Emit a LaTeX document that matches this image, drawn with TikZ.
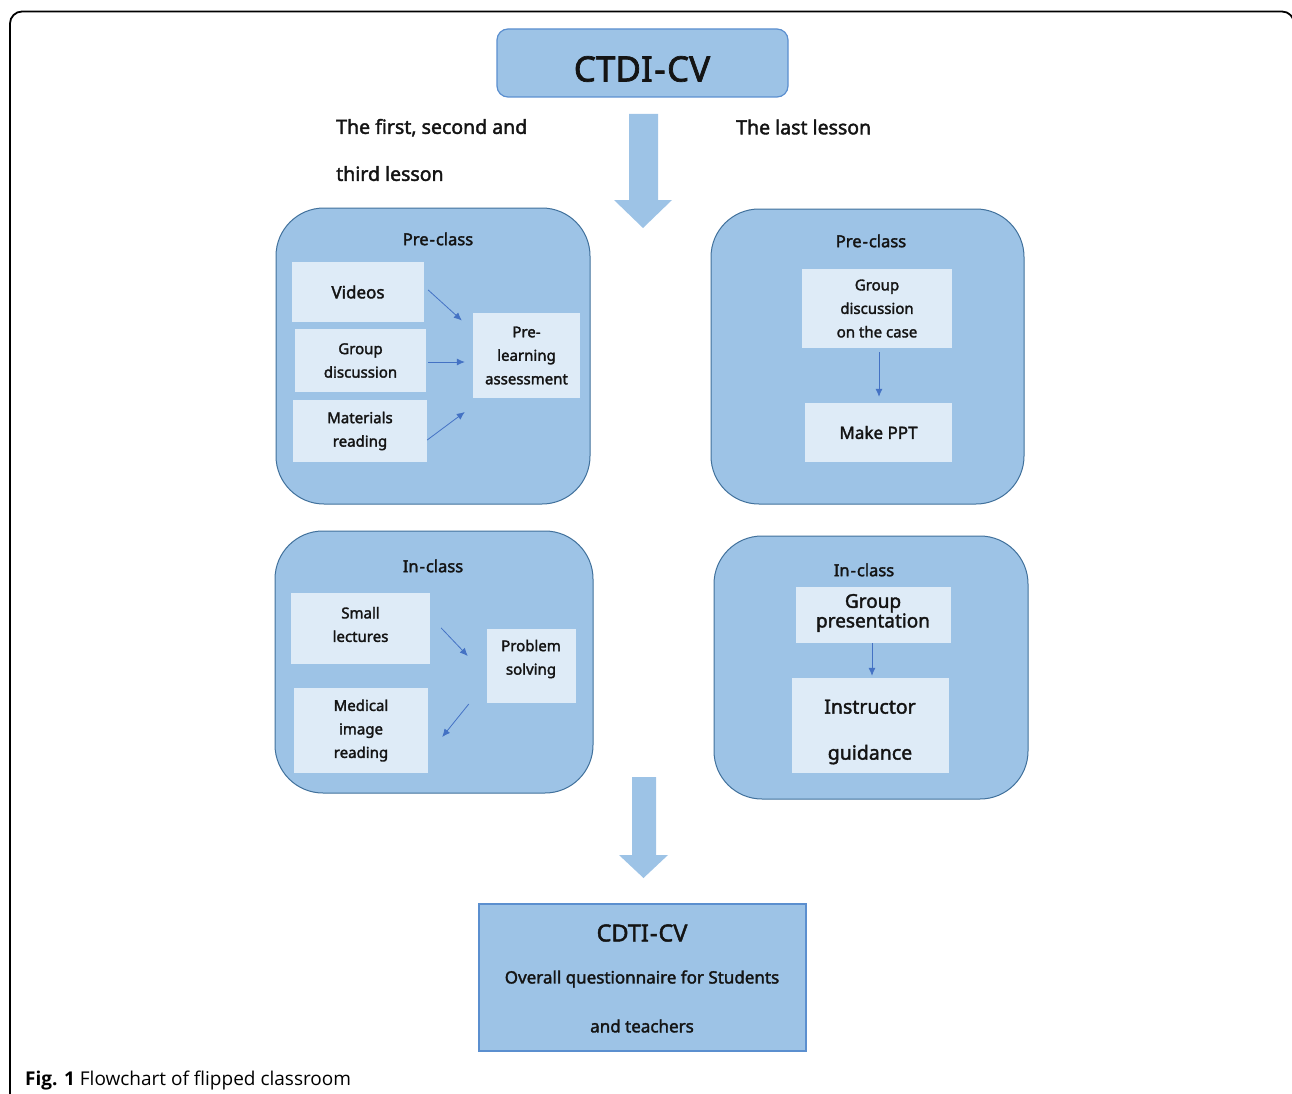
\documentclass[tikz,border=0pt]{standalone}
\usepackage{fontspec}
\setmainfont{Noto Sans}[FakeBold=2]
\newfontfamily\capfont{Open Sans}
\usetikzlibrary{arrows.meta,calc}

\definecolor{panelblue}{HTML}{9DC3E6}
\definecolor{paleblue}{HTML}{DEEBF7}
\definecolor{edgeblue}{HTML}{41719C}
\definecolor{boxedge}{HTML}{5B8FCF}
\definecolor{flowblue}{HTML}{4472C4}
\definecolor{ink}{HTML}{141414}

\newcommand\fsz[2]{\fontsize{#1}{#2}\selectfont}

\begin{document}
\begin{tikzpicture}[x=1pt,y=-1pt,
  panel/.style={draw=edgeblue, line width=1pt, fill=panelblue, rounded corners=48pt, inner sep=0pt},
  item/.style={fill=paleblue, inner sep=0pt, align=center, text=ink, font=\fsz{15}{23.5}},
  words/.style={inner sep=0pt, align=center, text=ink},
  ptitle/.style={inner sep=0pt, text=ink, font=\fsz{16.5}{20}},
  lesson/.style={inner sep=0pt, text=ink, font=\fsz{19.5}{47}, align=left, anchor=west},
  flow/.style={draw=flowblue, line width=0.8pt, -{Latex[length=8pt,width=7pt]}},
  bigarrow/.style={fill=panelblue, draw=none}
]
\useasboundingbox (0,0) rectangle (1292,1094);

% outer frame, open at the bottom
\draw[line width=1.8pt, rounded corners=12pt] (10,1100) -- (10,11.5) -- (1294,11.5) -- (1294,1100);

% instrument at the start
\node[draw=boxedge, line width=1.2pt, fill=panelblue, rounded corners=11pt,
      minimum width=291pt, minimum height=68pt, inner sep=0pt] (ctdi) at (642.5,63) {};
\node[words, font=\fsz{35}{40}] (ctditx) at (642,69) {CTDI{\kern1.5pt}-{\kern1.5pt}CV};

% lesson headings
\node[lesson] (first) at (336,150) {The first, second and\\third lesson};
\node[lesson] (last) at (736,127) {The last lesson};

% big downward arrow below the instrument
\fill[bigarrow] (629,114) -- (658,114) -- (658,200) -- (672,200) -- (643,228)
  -- (614,200) -- (629,200) -- cycle;

% ---------- first to third lesson: pre-class ----------
\node[panel, minimum width=314pt, minimum height=296pt] (preA) at (433,356) {};
\node[ptitle] (preAt) at (438,239) {Pre{\kern1pt}-{\kern1pt}class};
\node[item, minimum width=132pt, minimum height=60pt, font=\fsz{17}{23}] (videos) at (358,292) {Videos};
\node[item, minimum width=131pt, minimum height=63pt] (gdisc) at (360.5,360.5) {Group\\discussion};
\node[item, minimum width=134pt, minimum height=62pt] (mread) at (360,431) {Materials\\reading};
\node[item, minimum width=107pt, minimum height=85pt] (prel) at (526.5,355.5) {Pre-\\learning\\assessment};
\draw[flow] ($(videos.east)+(4,-2)$) -- ($(prel.west)+(-11,-35)$);
\draw[flow] ($(gdisc.east)+(2,1.5)$) -- ($(prel.west)+(-8,6.5)$);
\draw[flow] ($(mread.east)+(0,9)$) -- ($(prel.west)+(-8,56.5)$);

% ---------- last lesson: pre-class ----------
\node[panel, minimum width=313pt, minimum height=295pt] (preB) at (867.5,356.5) {};
\node[ptitle] (preBt) at (871,241) {Pre{\kern1pt}-{\kern1pt}class};
\node[item, minimum width=150pt, minimum height=79pt] (gcase) at (877,308.5) {Group\\discussion\\on the case};
\node[item, minimum width=147pt, minimum height=59pt, font=\fsz{17}{23}] (ppt) at (878.5,432.5) {Make PPT};
\draw[flow] ($(gcase.south)+(2,4)$) -- ($(ppt.north)+(0.5,-6)$);

% ---------- first to third lesson: in-class ----------
\node[panel, minimum width=318pt, minimum height=262pt] (inA) at (434,662) {};
\node[ptitle] (inAt) at (433,566) {In{\kern1pt}-{\kern1pt}class};
\node[item, minimum width=139pt, minimum height=71pt] (small) at (360.5,628.5) {};
\node[words, font=\fsz{15}{23.5}] (smalltx) at (360.5,624.5) {Small\\lectures};
\node[item, minimum width=89pt, minimum height=74pt] (prob) at (531.5,666) {};
\node[words, font=\fsz{15}{23.5}] (probtx) at (531,659) {Problem\\solving};
\node[item, minimum width=134pt, minimum height=85pt] (med) at (361,730.5) {Medical\\image\\reading};
\draw[flow] ($(small.east)+(11,-0.5)$) -- ($(prob.west)+(-19,-10)$);
\draw[flow] ($(prob.west)+(-18,38)$) -- ($(med.east)+(14,6.5)$);

% ---------- last lesson: in-class ----------
\node[panel, minimum width=314pt, minimum height=263pt] (inB) at (871,667.5) {};
\node[ptitle] (inBt) at (864,570) {In{\kern1pt}-{\kern1pt}class};
\node[item, minimum width=155pt, minimum height=56pt] (gpres) at (873.5,615) {};
\node[words, font=\fsz{19}{18}] (gprestx) at (873,613) {Group\\presentation};
\node[item, minimum width=157pt, minimum height=95pt] (instr) at (870.5,725.5) {};
\node[words, font=\fsz{19.5}{46}] (instrtx) at (870,732) {Instructor\\guidance};
\draw[flow] ($(gpres.south)+(-1.5,0)$) -- ($(instr.north)+(1.5,-2)$);

% big downward arrow towards the final survey
\fill[bigarrow] (632,777) -- (656,777) -- (656,855) -- (668,855) -- (643.5,878)
  -- (619,855) -- (632,855) -- cycle;

% final survey
\node[draw=boxedge, line width=1.2pt, fill=panelblue, minimum width=327pt,
      minimum height=147pt, inner sep=0pt] (survey) at (642.5,977.5) {};
\node[words, font=\fsz{23.5}{28}] (sv1) at (642,933) {CDTI{\kern1pt}-{\kern1pt}CV};
\node[words, font=\fsz{17}{20}] (sv2) at (642,979) {Overall questionnaire for Students};
\node[words, font=\fsz{17}{20}] (sv3) at (642,1026) {and teachers};

% caption
\node[inner sep=0pt, anchor=base west, font=\capfont\fsz{19}{22}] (cap) at (25,1085)
  {\textbf{Fig. 1} Flowchart of flipped classroom};
\end{tikzpicture}
\end{document}
